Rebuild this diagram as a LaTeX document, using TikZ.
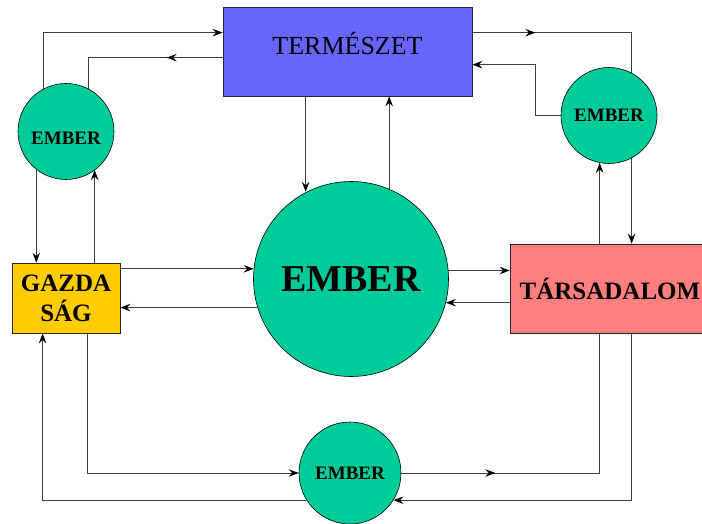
\documentclass[tikz,border=0pt]{standalone}
\usepackage{fontspec}
\setmainfont{Liberation Serif}
\usetikzlibrary{arrows.meta,calc,backgrounds,decorations.markings}

\definecolor{natcol}{RGB}{102,102,255}
\definecolor{humcol}{RGB}{0,204,153}
\definecolor{ecocol}{RGB}{255,204,0}
\definecolor{soccol}{RGB}{255,127,127}

% text box of zero height, baseline raised by #1 relative to the node centre
\newcommand\shiftedtext[2]{\raisebox{#1}[0pt][0pt]{#2}}

\tikzset{
  >={Stealth[length=10pt,width=7.5pt,inset=3.5pt,color=black]},
  plainlink/.style={draw=black!75,line width=0.9pt},
  link/.style={plainlink,->},
  midarrow/.style={postaction={decorate,decoration={markings,
      mark=at position #1 with {\arrow{>}}}}},
  block/.style={draw=black!85,line width=0.7pt,rectangle,inner sep=0pt},
  human/.style={draw=black,line width=0.6pt,circle,fill=humcol,inner sep=0pt,
      font=\bfseries\fontsize{19}{22}\selectfont},
}

\begin{document}
\begin{tikzpicture}[x=1pt,y=-1pt]
\useasboundingbox (0,0) rectangle (702,524);
\clip (0,0) rectangle (702,524);

% blocks
\node[block,fill=natcol,minimum width=249pt,minimum height=89pt,
      font=\fontsize{26}{30}\selectfont] (nat) at (347.5,51.5)
      {\shiftedtext{-3pt}{TERMÉSZET}};
\node[block,fill=ecocol,minimum width=108pt,minimum height=70pt,align=center,
      font=\bfseries\fontsize{25}{30}\selectfont] (gaz) at (66,298) {GAZDA\\SÁG};
\node[block,fill=soccol,minimum width=200pt,minimum height=89pt,
      font=\bfseries\fontsize{25}{30}\selectfont] (tar) at (610,288.5) {TÁRSADALOM};

% people
\node[human,minimum size=96pt] (eL) at (66,131.5) {\shiftedtext{-13.3pt}{EMBER}};
\node[human,minimum size=96pt] (eR) at (609,115.5) {EMBER};
\node[human,minimum size=195pt,font=\bfseries\fontsize{38}{44}\selectfont] (eC) at (351,279) {EMBER};
\node[human,minimum size=102pt] (eB) at (350,473) {EMBER};

\begin{scope}[on background layer]
\fill[white] (0,0) rectangle (702,524);

% left loop: nature <-> human <-> economy
\draw[link] (eL.118.6) |- ($(nat.north west)+(0,26)$);
\draw[plainlink,midarrow=56pt] ($(nat.north west)+(0,51)$) -| (eL.62.7);
\draw[link] (eL.232.8) -- (eL.232.8 |- gaz.north);
\draw[link] ($(gaz.north west)+(83,0)$) coordinate (g1) -- (g1 |- eL.307.2);

% right loop: nature <-> human <-> society
\draw[link,midarrow=63pt] ($(nat.north east)+(0,26)$) -| ($(tar.north west)+(122,0)$);
\draw[link] (eR.west) -- ++(-25,0) |- ($(nat.north east)+(0,58)$);
\draw[link] ($(tar.north west)+(90,0)$) coordinate (t1) -- (t1 |- eR.259.2);

% centre
\draw[link] ($(nat.south west)+(83,0)$) coordinate (n1) -- (n1 |- eC.117.5);
\draw[link] (eC.67.1) -- (eC.67.1 |- nat.south);
\draw[link] (gaz.east |- eC.174.7) -- (eC.174.7);
\draw[link] (eC.197.3) -- (eC.197.3 -| gaz.east);
\draw[link] (eC.5.3) -- (eC.5.3 -| tar.west);
\draw[link] (tar.west |- eC.346.4) -- (eC.346.4);

% bottom loop: economy <-> human <-> society
\draw[link] ($(gaz.south west)+(76,0)$) |- (eB.west);
\draw[plainlink,midarrow=94pt] (eB.east) -| ($(tar.south west)+(90,0)$);
\draw[link] ($(tar.south west)+(122,0)$) |- (eB.-32);
\draw[link] (eB.212) -| ($(gaz.south west)+(31,0)$);
\end{scope}
\end{tikzpicture}
\end{document}
